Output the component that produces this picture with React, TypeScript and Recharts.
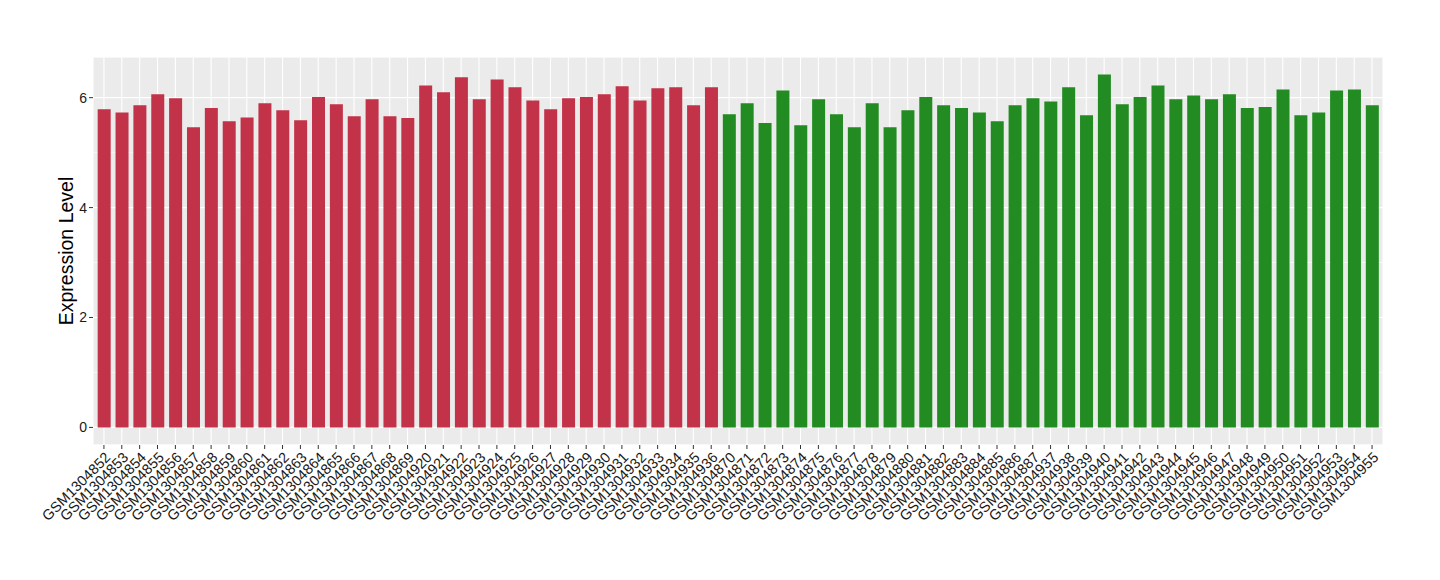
import { BarChart, Bar, Cell, XAxis, YAxis, CartesianGrid } from 'recharts';

// sample ids, in plotted order
const samples = [
  'GSM1304852', 'GSM1304853', 'GSM1304854', 'GSM1304855', 'GSM1304856', 'GSM1304857',
  'GSM1304858', 'GSM1304859', 'GSM1304860', 'GSM1304861', 'GSM1304862', 'GSM1304863',
  'GSM1304864', 'GSM1304865', 'GSM1304866', 'GSM1304867', 'GSM1304868', 'GSM1304869',
  'GSM1304920', 'GSM1304921', 'GSM1304922', 'GSM1304923', 'GSM1304924', 'GSM1304925',
  'GSM1304926', 'GSM1304927', 'GSM1304928', 'GSM1304929', 'GSM1304930', 'GSM1304931',
  'GSM1304932', 'GSM1304933', 'GSM1304934', 'GSM1304935', 'GSM1304936',
  'GSM1304870', 'GSM1304871', 'GSM1304872', 'GSM1304873', 'GSM1304874', 'GSM1304875',
  'GSM1304876', 'GSM1304877', 'GSM1304878', 'GSM1304879', 'GSM1304880', 'GSM1304881',
  'GSM1304882', 'GSM1304883', 'GSM1304884', 'GSM1304885', 'GSM1304886', 'GSM1304887',
  'GSM1304937', 'GSM1304938', 'GSM1304939', 'GSM1304940', 'GSM1304941', 'GSM1304942',
  'GSM1304943', 'GSM1304944', 'GSM1304945', 'GSM1304946', 'GSM1304947', 'GSM1304948',
  'GSM1304949', 'GSM1304950', 'GSM1304951', 'GSM1304952', 'GSM1304953', 'GSM1304954',
  'GSM1304955',
];

const expression = [
  5.79, 5.73, 5.86, 6.06, 5.99, 5.46, 5.81, 5.57, 5.64, 5.90, 5.77, 5.59,
  6.01, 5.88, 5.66, 5.97, 5.66, 5.63,
  6.22, 6.10, 6.37, 5.97, 6.33, 6.19, 5.95, 5.79, 5.99, 6.01, 6.06, 6.21,
  5.95, 6.17, 6.19, 5.86, 6.19,
  5.70, 5.90, 5.54, 6.13, 5.50, 5.97, 5.70, 5.46, 5.90, 5.46, 5.77, 6.01,
  5.86, 5.81, 5.73, 5.57, 5.86, 5.99,
  5.93, 6.19, 5.68, 6.42, 5.88, 6.01, 6.22, 5.97, 6.04, 5.97, 6.06, 5.81,
  5.83, 6.15, 5.68, 5.73, 6.13, 6.15, 5.86,
];

// 35 samples in the first group, 37 in the second
const groups = [...Array(35).fill('A'), ...Array(37).fill('B')];

const groupColors: Record<string, string> = { A: '#C23249', B: '#228B22' };

const yTicks = [0, 2, 4, 6];
const yMinorTicks = [1, 3, 5];

const data = samples.map((s, i) => ({ sample: s, value: expression[i], group: groups[i] }));

const FONT = '"Liberation Sans", Arial, Helvetica, sans-serif';

const SampleTick = (props: any) => {
  const { x, y, payload } = props;
  return (
    <g transform={`translate(${x},${y})`}>
      <text
        transform="rotate(-45)"
        textAnchor="end"
        dy="0.72em"
        fontSize={14.5}
        fill="#1a1a1a"
        fontFamily={FONT}
      >
        {payload.value}
      </text>
    </g>
  );
};

const YTitle = (props: any) => {
  const { viewBox } = props;
  const cy = viewBox.y + viewBox.height / 2;
  return (
    <text
      x={66}
      y={cy}
      transform={`rotate(-90, 66, ${cy})`}
      textAnchor="middle"
      dominantBaseline="central"
      fontSize={19.5}
      fill="#000"
      fontFamily={FONT}
    >
      Expression Level
    </text>
  );
};

export default function App() {
  return (
    <div style={{ position: 'absolute', left: 0, top: 0, width: 1440, height: 580, background: '#fff' }}>
      <BarChart
        width={1440}
        height={580}
        data={data}
        margin={{ top: 57, right: 57, bottom: 0, left: 0 }}
        barCategoryGap="15%"
      >
        <CartesianGrid fill="#EBEBEB" stroke="#FFFFFF" strokeWidth={1.1} />
        <CartesianGrid yAxisId="minor" vertical={false} stroke="#FFFFFF" strokeWidth={0.6} />
        <XAxis
          dataKey="sample"
          interval={0}
          height={135}
          padding={{ left: 2, right: 2 }}
          axisLine={false}
          tickSize={4}
          tickMargin={2}
          tickLine={{ stroke: '#333333' }}
          tick={<SampleTick />}
        />
        <YAxis
          type="number"
          width={93}
          domain={[-0.32, 6.74]}
          allowDataOverflow
          ticks={yTicks}
          axisLine={false}
          tickSize={4}
          tickMargin={2}
          tickLine={{ stroke: '#333333' }}
          tick={{ fontSize: 14, fill: '#1a1a1a', fontFamily: FONT }}
          label={<YTitle />}
        />
        <YAxis
          yAxisId="minor"
          type="number"
          hide
          domain={[-0.32, 6.74]}
          allowDataOverflow
          ticks={yMinorTicks}
        />
        <Bar dataKey="value" isAnimationActive={false}>
          {data.map((d) => (
            <Cell key={d.sample} fill={groupColors[d.group]} />
          ))}
        </Bar>
      </BarChart>
    </div>
  );
}
